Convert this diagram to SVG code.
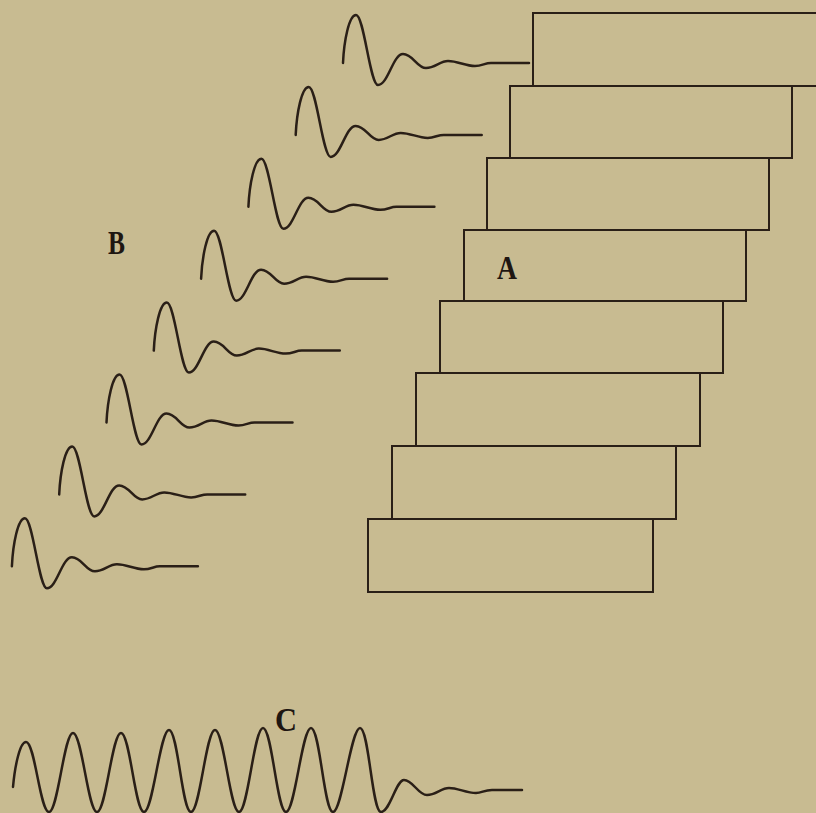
<svg xmlns="http://www.w3.org/2000/svg" xmlns:xlink="http://www.w3.org/1999/xlink" width="816" height="813" viewBox="0 0 816 813">
<style>
.ln{fill:none;stroke:#2a1f17;stroke-width:2.5;stroke-linecap:round;stroke-linejoin:round}
.bx{fill:none;stroke:#2a1f17;stroke-width:2}
.lbl{font-family:"Liberation Serif","Times New Roman",serif;font-weight:bold;font-size:34px;fill:#1e1611}
</style>
<defs>
<path id="damped" class="ln" d="M0,0 C1,-22 6,-48 13,-48 C21,-48 27,22 35,22 C45,22 50,-9 60,-9 C70,-9 74,5 83,5 C92,5 97,-2 105,-2 C115,-2 122,3 132,3 C139,3 142,0 148,0 C160,0 172,0 186,0"/>
</defs>
<rect width="816" height="813" fill="#c8bb91"/>
<g id="A">
<rect class="bx" x="533" y="13" width="300" height="73"/>
<rect class="bx" x="510" y="86" width="282" height="72"/>
<rect class="bx" x="487" y="158" width="282" height="72"/>
<rect class="bx" x="464" y="230" width="282" height="71"/>
<rect class="bx" x="440" y="301" width="283" height="72"/>
<rect class="bx" x="416" y="373" width="284" height="73"/>
<rect class="bx" x="392" y="446" width="284" height="73"/>
<rect class="bx" x="368" y="519" width="285" height="73"/>
<text class="lbl" x="497" y="279" textLength="20" lengthAdjust="spacingAndGlyphs">A</text>
</g>
<g id="B">
<use xlink:href="#damped" transform="translate(343,63)"/>
<use xlink:href="#damped" transform="translate(295.7,134.9)"/>
<use xlink:href="#damped" transform="translate(248.4,206.8)"/>
<use xlink:href="#damped" transform="translate(201.1,278.7)"/>
<use xlink:href="#damped" transform="translate(153.8,350.6)"/>
<use xlink:href="#damped" transform="translate(106.5,422.5)"/>
<use xlink:href="#damped" transform="translate(59.2,494.4)"/>
<use xlink:href="#damped" transform="translate(11.9,566.3)"/>
<text class="lbl" x="108" y="254" textLength="17" lengthAdjust="spacingAndGlyphs">B</text>
</g>
<g id="C">
<path class="ln" d="M13,787 C15,765 20,742 26,742 C35,742 40,812 49,812 C58,812 64,733 73,733 C82,733 88,812 97,812 C106,812 112,733 121,733 C130,733 135,812 144,812 C153,812 160,730 169,730 C178,730 182,812 191,812 C200,812 206,730 215,730 C224,730 230,812 239,812 C248,812 254,728 263,728 C272,728 277,812 286,812 C295,812 302,728 311,728 C320,728 324,812 333,812 C342,812 351,728 360,728 C369,728 372,812 381,812 C390,812 396,780 404,780 C413,780 418,795 427,795 C436,795 441,788 449,788 C458,788 466,793 476,793 C482,793 484,790 492,790 L522,790"/>
<text class="lbl" x="275" y="731" textLength="22" lengthAdjust="spacingAndGlyphs">C</text>
</g>
</svg>
